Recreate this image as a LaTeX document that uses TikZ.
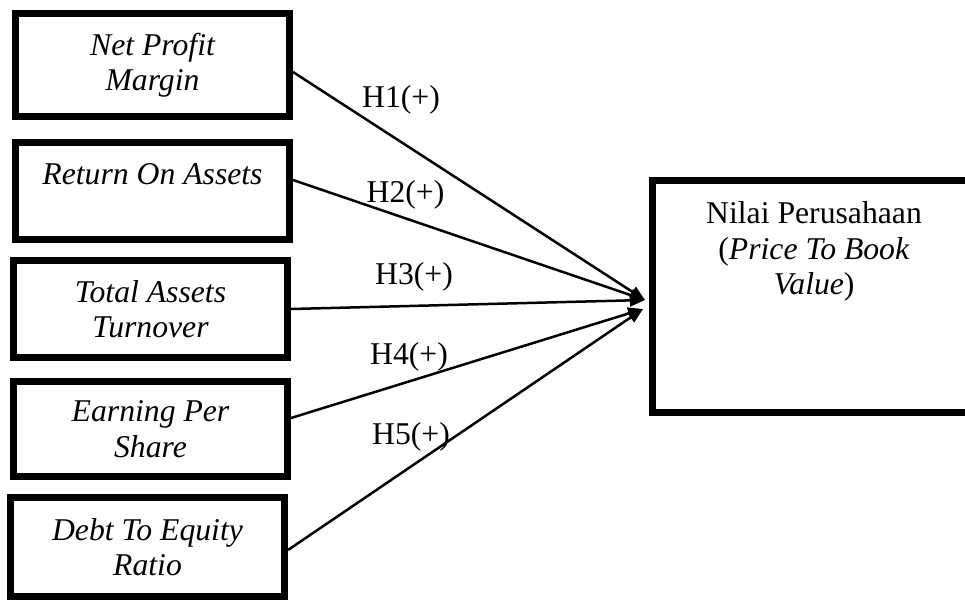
\documentclass[tikz,border=0pt]{standalone}
\usepackage{fontspec}
\setmainfont{Liberation Serif}
\usetikzlibrary{arrows.meta}

\begin{document}
\begin{tikzpicture}[x=1pt,y=-1pt,
    var/.style={draw,line width=7pt,minimum width=274pt,inner sep=0pt,align=center,
                font=\fontsize{31.7}{35.5}\selectfont\itshape},
    hyp/.style={inner sep=0pt,font=\fontsize{31.7}{35.5}\selectfont},
    link/.style={-{Triangle[length=15pt,width=12pt]},line width=2.5pt}]
      \useasboundingbox (0,0) rectangle (965,599);

      % independent variables
      \node (npm)  [var,minimum height=103pt] at (152.5,65)  {Net Profit\\Margin};
      \node (roa)  [var,minimum height=97pt,text height=21.5pt,text depth=35.5pt]
                                              at (152.5,191) {Return On Assets};
      \node (tato) [var,minimum height=97pt]  at (150.5,309) {Total Assets\\Turnover};
      \node (eps)  [var,minimum height=95pt]  at (150.5,429) {Earning Per\\Share};
      \node (der)  [var,minimum height=99pt]  at (147.5,547) {Debt To Equity\\Ratio};

      % dependent variable
      \node (pbv)  [draw,line width=7pt,minimum width=323pt,minimum height=232pt]
                                              at (814,296.5) {};
      \node (pbvtext) [hyp,align=center,anchor=north] at (814,201.5)
            {Nilai Perusahaan\\(\textit{Price To Book}\\\textit{Value})};

      \coordinate (in1) at (645,300);
      \coordinate (in2) at (643,309);

      \draw [link] ([yshift=-7pt]npm.east)  to (in1);
      \draw [link] ([yshift=11pt]roa.east)  to (in1);
      \draw [link] (tato.east)              to (in1);
      \draw [link] ([yshift=11pt]eps.east)  to (in2);
      \draw [link] ([yshift=-3pt]der.east)  to (in2);

      \node (h1) [hyp] at (401,100) {H1(+)};
      \node (h2) [hyp] at (405.5,195) {H2(+)};
      \node (h3) [hyp] at (414,277) {H3(+)};
      \node (h4) [hyp] at (409,356.5) {H4(+)};
      \node (h5) [hyp] at (411,437) {H5(+)};
    \end{tikzpicture}
\end{document}
